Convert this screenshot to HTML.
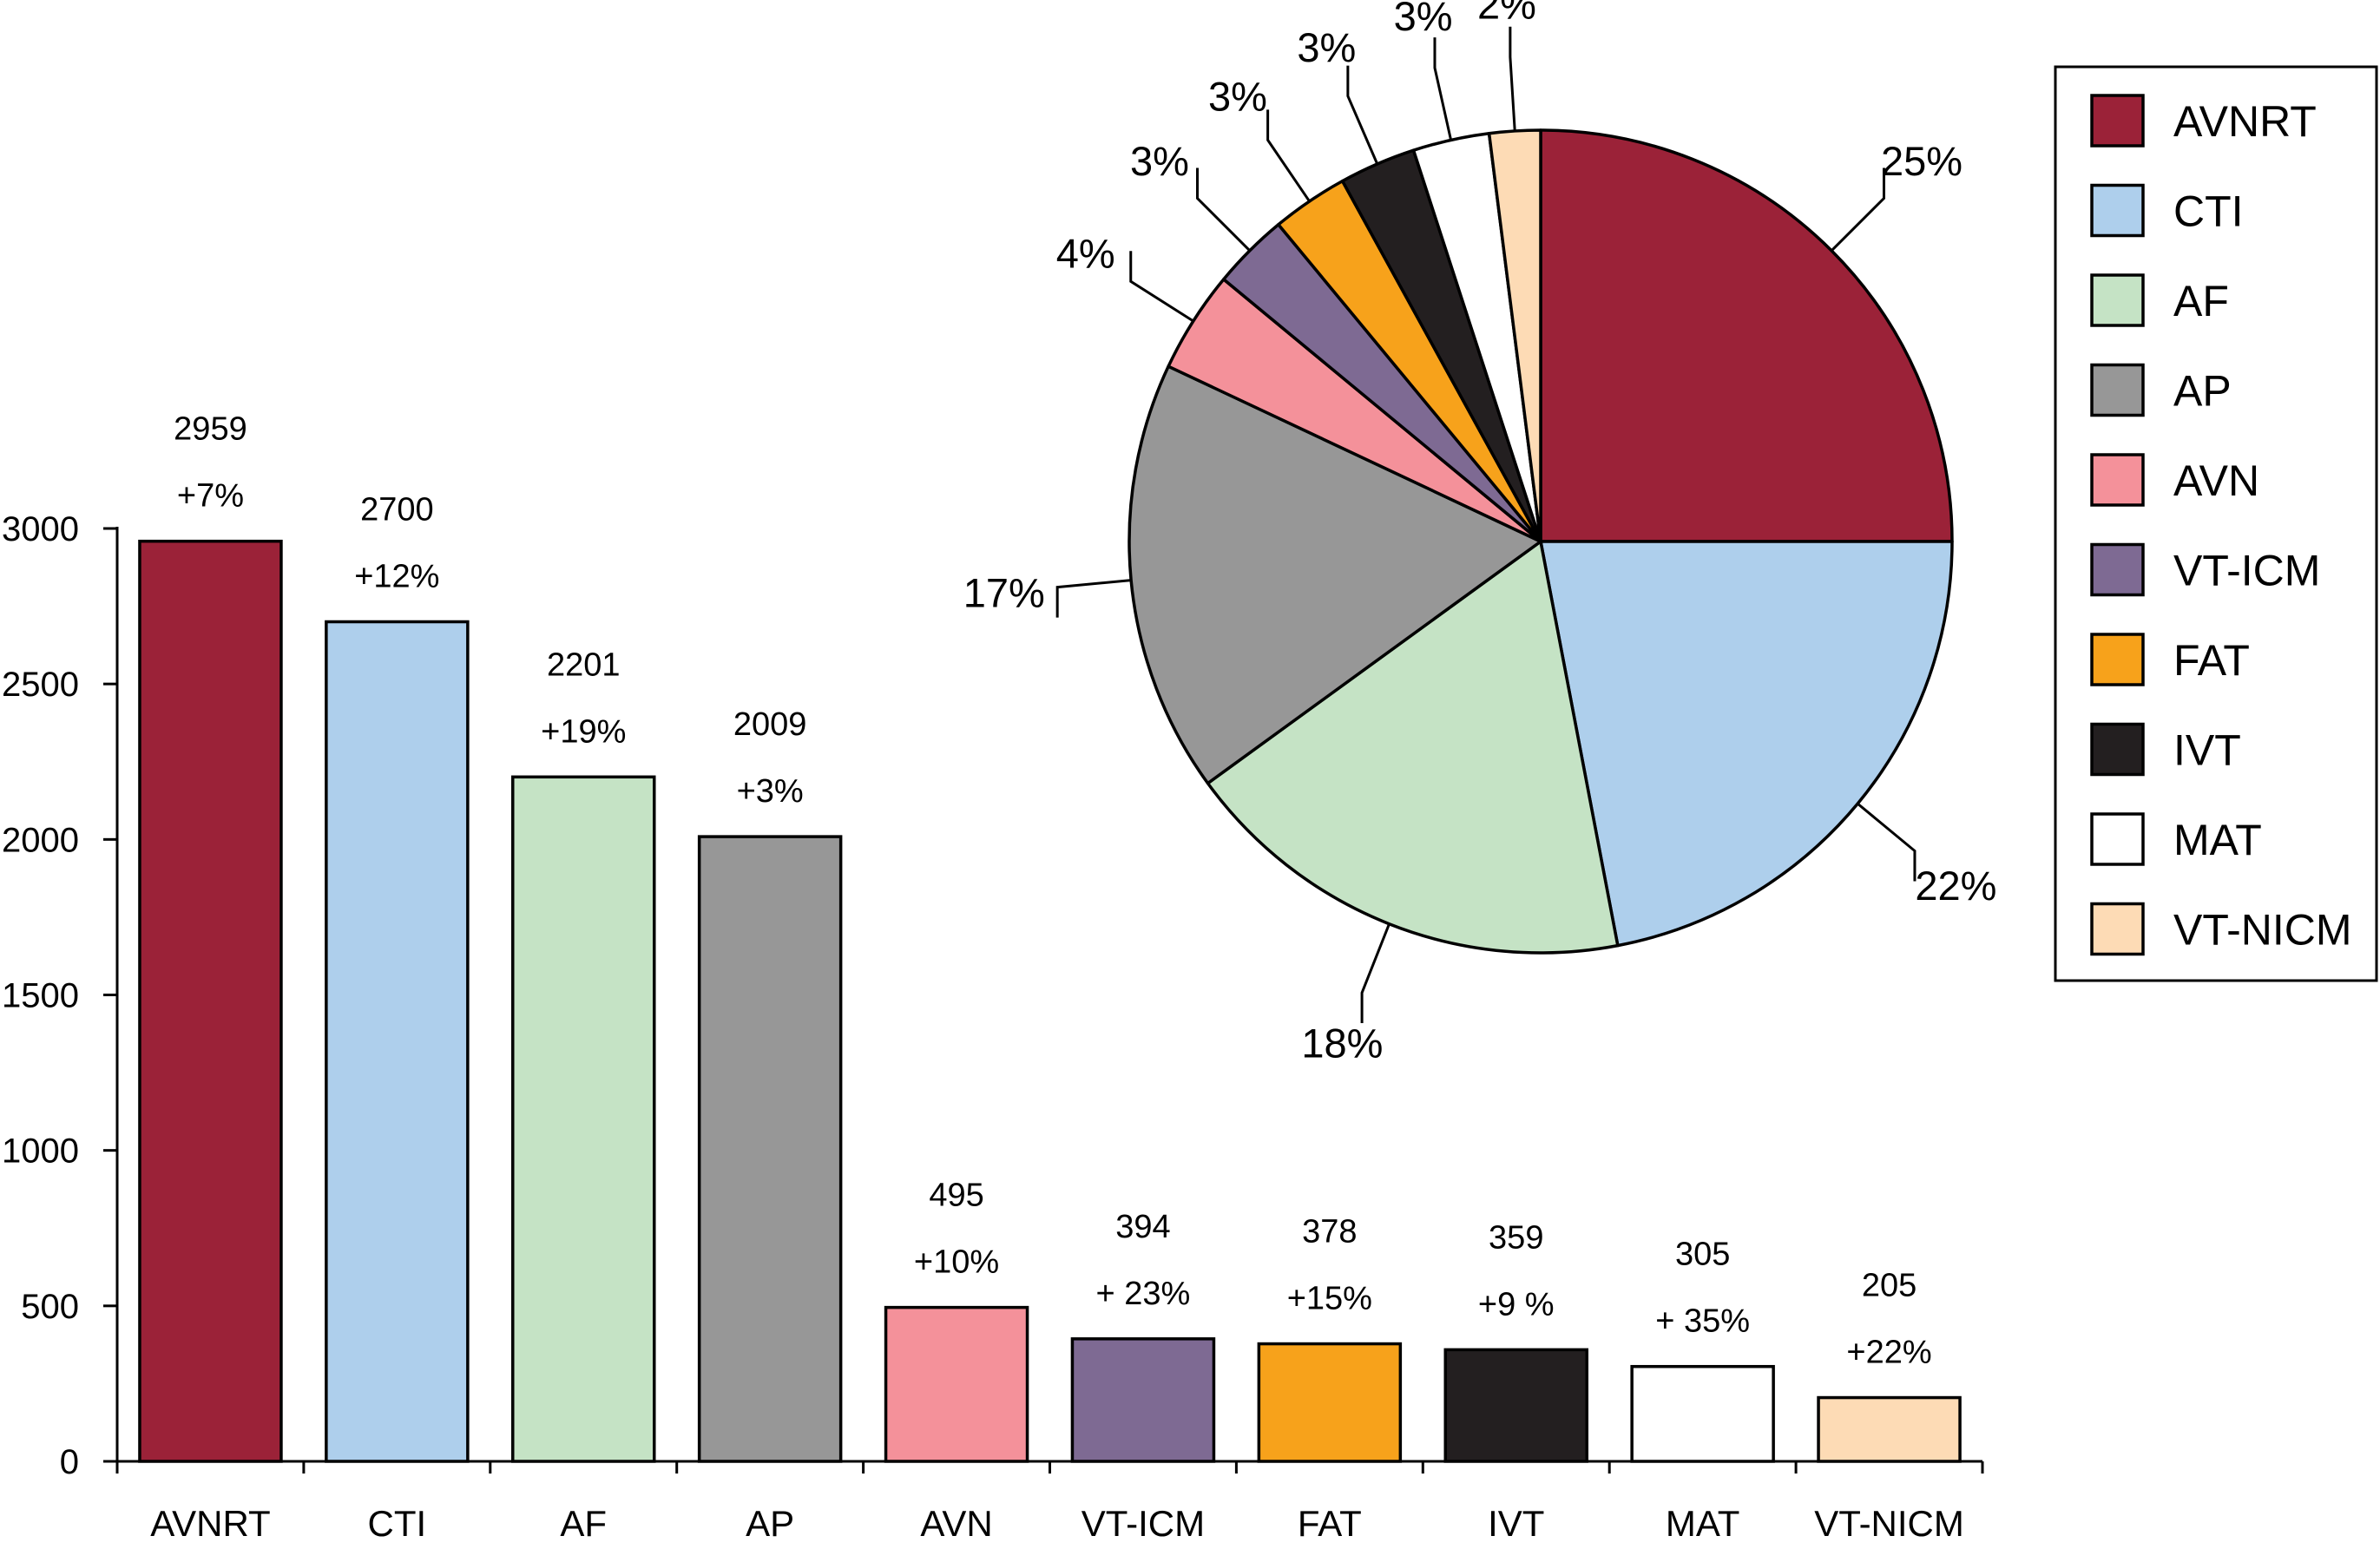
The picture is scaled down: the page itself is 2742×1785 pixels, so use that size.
<!DOCTYPE html>
<html><head><meta charset="utf-8"><style>
html,body{margin:0;padding:0;background:#fff;}
svg{display:block;font-family:"Liberation Sans",Arial,sans-serif;}
</style></head><body>
<svg id="chart" width="2742" height="1785" viewBox="0 0 2742 1785" xmlns="http://www.w3.org/2000/svg"></svg>
<script>
const categories = ["AVNRT","CTI","AF","AP","AVN","VT-ICM","FAT","IVT","MAT","VT-NICM"];
const counts = [2959,2700,2201,2009,495,394,378,359,305,205];
const changeLabels = ["+7%","+12%","+19%","+3%","+10%","+ 23%","+15%","+9 %","+ 35%","+22%"];
const pieShares = [25,22,18,17,4,3,3,3,3,2];
const yTicks = [0,500,1000,1500,2000,2500,3000];
const colors = ["#9B2238","#AECFEC","#C5E3C5","#979797","#F4919A","#7E6A93","#F7A21B","#231F20","#FFFFFF","#FDDBB5"];

const svg = document.getElementById('chart');
const NS = "http://www.w3.org/2000/svg";
function mk(tag, attrs, parent){const e=document.createElementNS(NS,tag);for(const k in attrs)e.setAttribute(k,attrs[k]);(parent||svg).appendChild(e);return e;}

const x0=135, x1=2284, y0=1684, yTop=609, yMaxVal=3000;
const slot=(x1-x0)/categories.length, barW=163;
const yS=v=>y0-(v/yMaxVal)*(y0-yTop);
const xC=i=>x0+slot*(i+0.5);

const axis=mk('g',{});


mk('line',{x1:x0,y1:yTop-2,x2:x0,y2:y0+14,stroke:'#000','stroke-width':3},axis);
yTicks.forEach(t=>{
  mk('line',{x1:x0-16,y1:yS(t),x2:x0,y2:yS(t),stroke:'#000','stroke-width':3},axis);
  const tx=mk('text',{x:x0-44,y:yS(t)+14,'text-anchor':'end','font-size':40},axis);
  
  
  tx.textContent=t;
});
const xa=mk('g',{});


mk('line',{x1:x0,y1:y0,x2:x1,y2:y0,stroke:'#000','stroke-width':3},xa);
for(let i=0;i<=categories.length;i++){
  mk('line',{x1:x0+slot*i,y1:y0,x2:x0+slot*i,y2:y0+14,stroke:'#000','stroke-width':3},xa);
}
categories.forEach((c,i)=>{
  const b=mk('rect',{x:xC(i)-barW/2,y:yS(counts[i]),width:barW,height:y0-yS(counts[i]),fill:colors[i],stroke:'#000','stroke-width':3.5});
  
  
  const t1=mk('text',{x:xC(i),y:yS(counts[i])-40,'text-anchor':'middle','font-size':38});
  
  
  t1.textContent=changeLabels[i];
  const t2=mk('text',{x:xC(i),y:yS(counts[i])-117,'text-anchor':'middle','font-size':38});
  
  
  t2.textContent=counts[i];
  const t3=mk('text',{x:xC(i),y:1770,'text-anchor':'middle','font-size':42});
  
  
  t3.textContent=c;
});

const cx=1775, cy=624, r=474;
const total=pieShares.reduce((a,b)=>a+b,0);
let acc=0;
const pt=(ang,rad)=>[cx+rad*Math.sin(ang), cy-rad*Math.cos(ang)];
pieShares.forEach((v,i)=>{
  const a0=acc/total*2*Math.PI; acc+=v; const a1=acc/total*2*Math.PI;
  const p0=pt(a0,r), p1=pt(a1,r);
  const large=(a1-a0)>Math.PI?1:0;
  const s=mk('path',{d:`M${cx},${cy} L${p0[0]},${p0[1]} A${r},${r} 0 ${large} 1 ${p1[0]},${p1[1]} Z`,fill:colors[i],stroke:'#000','stroke-width':3.5,'stroke-linejoin':'round'});
  
  
  const am=(a0+a1)/2;
  const q0=pt(am,r), q1=pt(am,r*1.18);
  const ln=mk('polyline',{points:`${q0[0]},${q0[1]} ${q1[0]},${q1[1]} ${q1[0]},${q1[1]-(Math.cos(am)>0?35:-35)}`,fill:'none',stroke:'#000','stroke-width':3});
  
  
  const lp=pt(am,r*1.31);
  const lt=mk('text',{x:lp[0],y:lp[1]+17,'text-anchor':'middle','font-size':47});
  
  
  lt.textContent=v+'%';
});

const lg=mk('g',{});


mk('rect',{x:2368,y:77,width:370,height:1053,fill:'#fff',stroke:'#000','stroke-width':3},lg);
categories.forEach((c,i)=>{
  const yy=139+i*103.5;
  const e=mk('g',{},lg);
  
  
  mk('rect',{x:2410,y:yy-29,width:59,height:58,fill:colors[i],stroke:'#000','stroke-width':3.5},e);
  const t=mk('text',{x:2504,y:yy+18,'font-size':50},e);
  t.textContent=c;
});
</script>
</body></html>
